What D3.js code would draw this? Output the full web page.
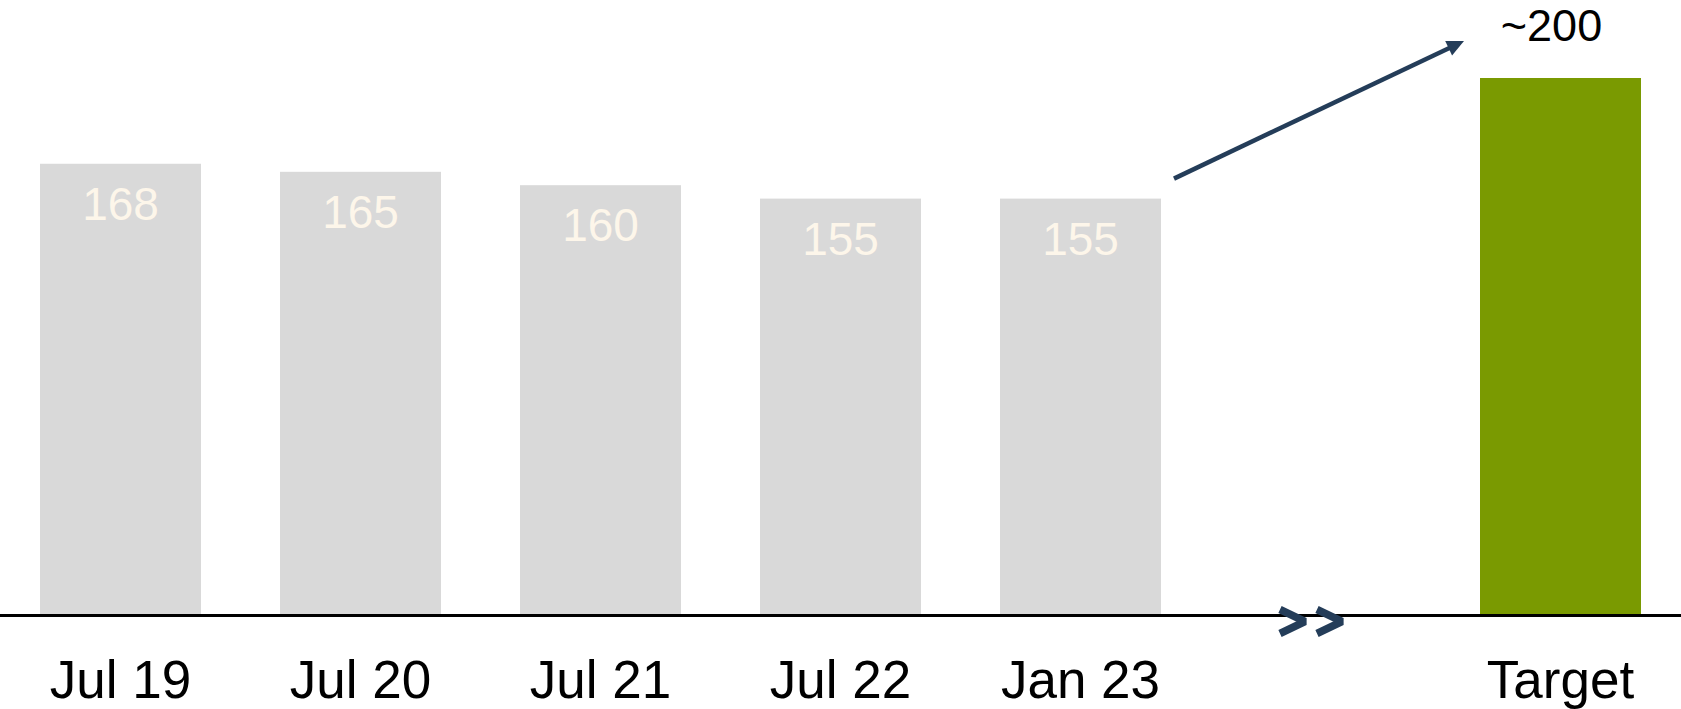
<!DOCTYPE html>
<html>
<head>
<meta charset="utf-8">
<script src="https://cdn.jsdelivr.net/npm/d3@7"></script>
<style>
  html, body { margin: 0; padding: 0; background: #ffffff; }
  svg { display: block; font-family: "Liberation Sans", Arial, Helvetica, sans-serif; }
</style>
</head>
<body>
<svg id="chart" width="1681" height="709"></svg>
<script>
// Headcount by period, with the target level on the right
const categories = ["Jul 19", "Jul 20", "Jul 21", "Jul 22", "Jan 23", "Target"];
const values = [168, 165, 160, 155, 155, 200];
const valueLabels = ["168", "165", "160", "155", "155", "~200"];
const breakSlot = "break"; // empty slot before the target holding the ">>" mark

const W = 1681, H = 709;
const svg = d3.select("#chart");

const slots = categories.slice(0, 5).concat([breakSlot], categories.slice(5));
const x = d3.scaleBand()
  .domain(slots)
  .range([40, 1641])
  .paddingInner(1 - 161 / 240)
  .paddingOuter(0);

const y = d3.scaleLinear().domain([0, 200]).range([614, 78]);

const data = categories.map((c, i) => ({ cat: c, value: values[i], label: valueLabels[i], target: c === "Target" }));

// bars
svg.append("g").selectAll("rect")
  .data(data)
  .join("rect")
  .attr("x", d => x(d.cat))
  .attr("y", d => y(d.value))
  .attr("width", x.bandwidth())
  .attr("height", d => y(0) - y(d.value))
  .attr("fill", d => d.target ? "#7A9A01" : "#D9D9D9");

// value labels: inside the grey bars, above the target bar
svg.append("g").selectAll("text")
  .data(data)
  .join("text")
  .attr("x", d => d.target ? x(d.cat) + x.bandwidth() / 2 - 9 : x(d.cat) + x.bandwidth() / 2)
  .attr("y", d => d.target ? y(d.value) - 37 : y(d.value) + 56)
  .attr("text-anchor", "middle")
  .attr("font-size", d => d.target ? 45 : 46)
  .attr("fill", d => d.target ? "#000000" : "#FDF6EA")
  .text(d => d.label);

// baseline axis across the whole width
const axis = svg.append("g").attr("transform", `translate(0,${y(0) + 1.5})`);
axis.append("line")
  .attr("x1", 0).attr("x2", W)
  .attr("stroke", "#000").attr("stroke-width", 3);

// category labels
axis.selectAll("text.cat")
  .data(categories)
  .join("text")
  .attr("class", "cat")
  .attr("x", d => x(d) + x.bandwidth() / 2)
  .attr("y", 82)
  .attr("text-anchor", "middle")
  .attr("font-size", 53)
  .attr("fill", "#000")
  .text(d => d);

// ">>" break mark on the axis
const navy = "#243D59";
const bc = x(breakSlot) + x.bandwidth() / 2 - 9;
const my = y(0) + 7.5;
[bc - 33.5, bc + 3.5].forEach(left => {
  svg.append("path")
    .attr("d", `M${left + 2},${my - 12} L${left + 27},${my} L${left + 2},${my + 12}`)
    .attr("fill", "none")
    .attr("stroke", navy)
    .attr("stroke-width", 7.5)
    .attr("stroke-linejoin", "miter")
    .attr("stroke-miterlimit", 2);
});

// growth arrow from the last actual bar toward the target
const x0 = x("Jan 23") + x.bandwidth() + 13, y0 = y(155) - 20;
const x1 = x("Target") - 16, y1 = y(200) - 37;
const ang = Math.atan2(y1 - y0, x1 - x0);
const headLen = 17, headHalf = 8;
const bx = x1 - headLen * Math.cos(ang), by = y1 - headLen * Math.sin(ang);
svg.append("line")
  .attr("x1", x0).attr("y1", y0)
  .attr("x2", bx + 2 * Math.cos(ang)).attr("y2", by + 2 * Math.sin(ang))
  .attr("stroke", navy).attr("stroke-width", 4.5);
const px = -Math.sin(ang), py = Math.cos(ang);
svg.append("path")
  .attr("d", `M${x1},${y1} L${bx + px * headHalf},${by + py * headHalf} L${bx - px * headHalf},${by - py * headHalf} Z`)
  .attr("fill", navy);
</script>
</body>
</html>
